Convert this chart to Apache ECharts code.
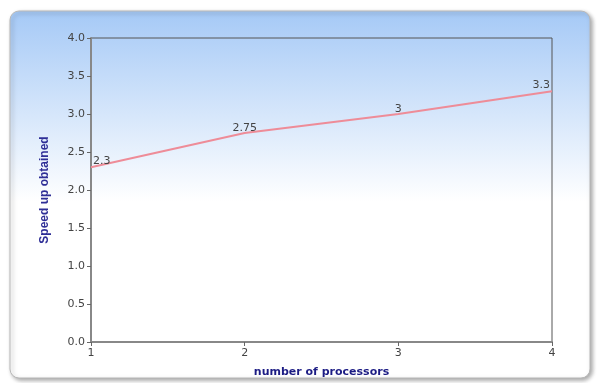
<!DOCTYPE html>
<html>
<head>
<meta charset="utf-8">
<script src="https://cdn.jsdelivr.net/npm/echarts@6/dist/echarts.min.js"></script>
<style>
  html, body { margin: 0; padding: 0; background: #fff; }
  #chart { width: 597px; height: 383px; }
</style>
</head>
<body>
<div id="chart"></div>
<script>
  // data
  var processors = [1, 2, 3, 4];
  var speedup = [2.3, 2.75, 3, 3.3];
  var labelPos = ['right', 'top', 'top', 'left'];

  var chart = echarts.init(document.getElementById('chart'));

  var points = processors.map(function (p, i) {
    var pos = labelPos[i];
    var off = pos === 'top' ? [0, 7] : [pos === 'right' ? -4 : 4, -6];
    return { value: [p, speedup[i]], label: { position: pos, offset: off } };
  });

  var option = {
    animation: false,
    graphic: [{
      type: 'rect',
      z: -10,
      shape: { x: 10, y: 11, width: 580, height: 367, r: 9 },
      style: {
        fill: new echarts.graphic.LinearGradient(0, 0, 0, 1, [
          { offset: 0, color: '#a5c9f6' },
          { offset: 0.52, color: '#ffffff' },
          { offset: 1, color: '#ffffff' }
        ]),
        stroke: '#b8b8b8',
        lineWidth: 1,
        shadowBlur: 4,
        shadowOffsetX: 2,
        shadowOffsetY: 2,
        shadowColor: 'rgba(0,0,0,0.35)'
      }
    }],
    grid: {
      left: 91, right: 45, top: 38, bottom: 39,
      show: true, borderColor: '#555', borderWidth: 1, backgroundColor: 'transparent'
    },
    xAxis: {
      type: 'value', min: 1, max: 4, interval: 1,
      name: 'number of processors', nameLocation: 'middle', nameGap: 25,
      nameTextStyle: { color: '#1c1c84', fontWeight: 'bold', fontSize: 11, fontFamily: 'DejaVu Sans' },
      axisLine: { onZero: false, lineStyle: { color: '#888', width: 2 } },
      axisTick: { show: true, length: 4, lineStyle: { color: '#666' } },
      axisLabel: { color: '#444', fontSize: 11, margin: 6, fontFamily: 'DejaVu Sans' },
      splitLine: { show: false }
    },
    yAxis: {
      type: 'value', min: 0, max: 4, interval: 0.5,
      name: 'Speed up obtained', nameLocation: 'middle', nameGap: 40,
      nameTextStyle: { color: '#2e2e96', fontWeight: 'bold', fontSize: 12, fontFamily: 'Liberation Sans' },
      axisLine: { onZero: false, lineStyle: { color: '#888', width: 2 } },
      axisTick: { show: true, length: 4, lineStyle: { color: '#666' } },
      axisLabel: {
        color: '#444', fontSize: 11, margin: 6, fontFamily: 'DejaVu Sans',
        formatter: function (v) { return v.toFixed(1); }
      },
      splitLine: { show: false }
    },
    series: [{
      type: 'line',
      data: points,
      symbol: 'circle',
      symbolSize: 2,
      showSymbol: true,
      itemStyle: { color: 'rgba(0,0,0,0)', borderWidth: 0 },
      lineStyle: { color: '#ee8c98', width: 2 },
      label: {
        show: true, color: '#444', fontSize: 11, fontFamily: 'DejaVu Sans',
        formatter: function (p) { return String(p.value[1]); }
      }
    }]
  };

  chart.setOption(option);
</script>
</body>
</html>
